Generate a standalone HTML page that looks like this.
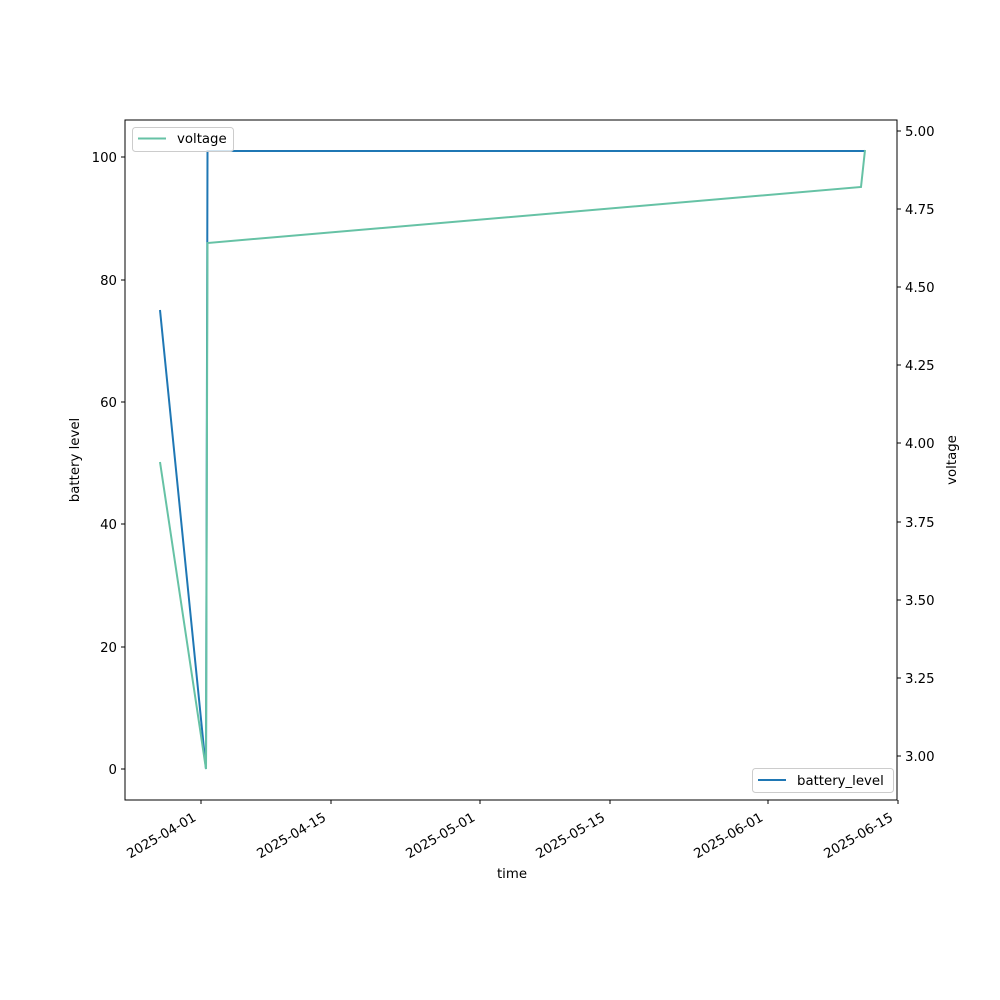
<!DOCTYPE html>
<html><head><meta charset="utf-8"><style>body{margin:0;background:#fff}svg{display:block}text{font-family:"DejaVu Sans","Liberation Sans",sans-serif;font-size:13.3px;fill:#000}</style></head>
<body>
<svg width="1000" height="1000" viewBox="0 0 1000 1000">
<rect width="1000" height="1000" fill="#fff"/>
<polyline points="160,310 206,769 207.5,151 865,151" fill="none" stroke="#1f77b4" stroke-width="2"/>
<polyline points="160,462 206,769 207.5,243 861,187 865,150" fill="none" stroke="#66c2a5" stroke-width="2"/>
<rect x="125" y="120" width="772" height="680" fill="none" stroke="#000" stroke-width="1"/>
<g stroke="#000">
<line x1="121" y1="769" x2="125" y2="769"/><line x1="121" y1="647" x2="125" y2="647"/><line x1="121" y1="524" x2="125" y2="524"/><line x1="121" y1="402" x2="125" y2="402"/><line x1="121" y1="280" x2="125" y2="280"/><line x1="121" y1="157" x2="125" y2="157"/>
</g>
<g text-anchor="end">
<text x="117" y="774">0</text><text x="117" y="652">20</text><text x="117" y="529">40</text><text x="117" y="407">60</text><text x="117" y="285">80</text><text x="117" y="162">100</text>
</g>
<text transform="translate(79,460) rotate(-90)" text-anchor="middle">battery level</text>
<g stroke="#000">
<line x1="897" y1="756" x2="901" y2="756"/><line x1="897" y1="678" x2="901" y2="678"/><line x1="897" y1="600" x2="901" y2="600"/><line x1="897" y1="522" x2="901" y2="522"/><line x1="897" y1="443" x2="901" y2="443"/><line x1="897" y1="365" x2="901" y2="365"/><line x1="897" y1="287" x2="901" y2="287"/><line x1="897" y1="209" x2="901" y2="209"/><line x1="897" y1="131" x2="901" y2="131"/>
</g>
<g>
<text x="905" y="761">3.00</text><text x="905" y="683">3.25</text><text x="905" y="605">3.50</text><text x="905" y="527">3.75</text><text x="905" y="448">4.00</text><text x="905" y="370">4.25</text><text x="905" y="292">4.50</text><text x="905" y="214">4.75</text><text x="905" y="136">5.00</text>
</g>
<text transform="translate(956,460) rotate(-90)" text-anchor="middle">voltage</text>
<g stroke="#000">
<line x1="201" y1="800" x2="201" y2="804"/><line x1="331" y1="800" x2="331" y2="804"/><line x1="480" y1="800" x2="480" y2="804"/><line x1="610" y1="800" x2="610" y2="804"/><line x1="768" y1="800" x2="768" y2="804"/><line x1="898" y1="800" x2="898" y2="804"/>
</g>
<g text-anchor="end">
<text transform="translate(197,820) rotate(-30)">2025-04-01</text>
<text transform="translate(327,820) rotate(-30)">2025-04-15</text>
<text transform="translate(476,820) rotate(-30)">2025-05-01</text>
<text transform="translate(606,820) rotate(-30)">2025-05-15</text>
<text transform="translate(764,820) rotate(-30)">2025-06-01</text>
<text transform="translate(894,820) rotate(-30)">2025-06-15</text>
</g>
<text x="512" y="878" text-anchor="middle">time</text>
<rect x="132.5" y="127.5" width="101" height="24" rx="3" fill="#fff" fill-opacity="0.8" stroke="#ccc"/>
<line x1="138" y1="138.5" x2="166" y2="138.5" stroke="#66c2a5" stroke-width="2"/>
<text x="177" y="143">voltage</text>
<rect x="752.5" y="768.5" width="141" height="24" rx="3" fill="#fff" fill-opacity="0.8" stroke="#ccc"/>
<line x1="758" y1="780" x2="786" y2="780" stroke="#1f77b4" stroke-width="2"/>
<text x="797" y="785">battery_level</text>
</svg>
</body></html>
